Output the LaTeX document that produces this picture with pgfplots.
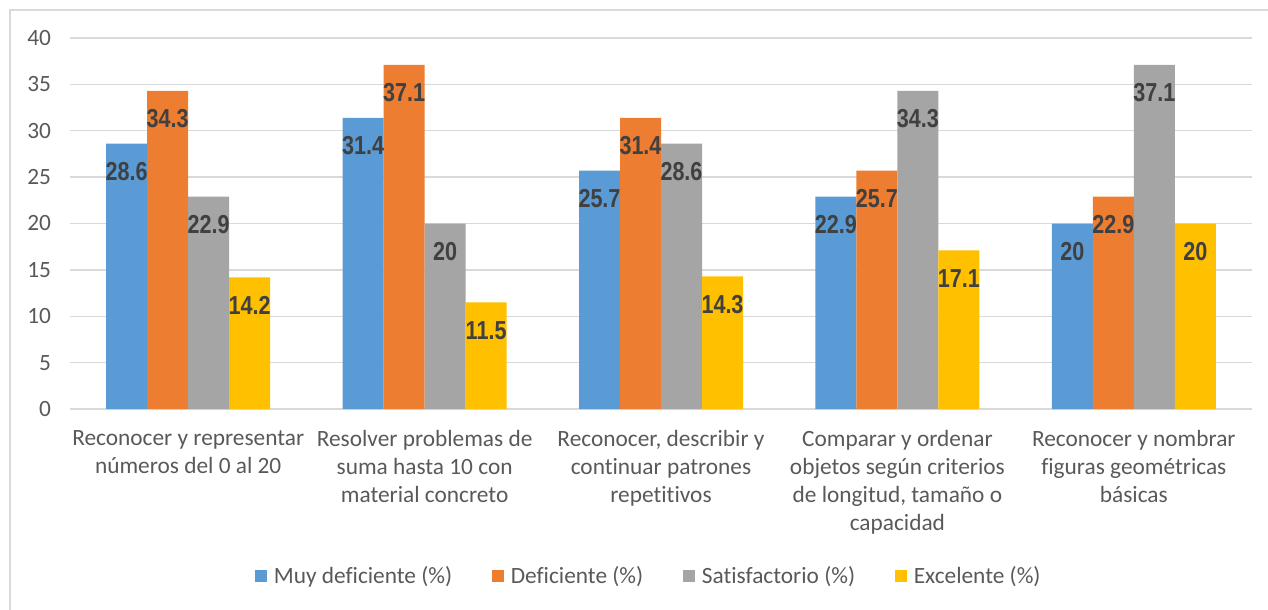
\documentclass[border=0pt]{standalone}
\usepackage{fontspec}
\setmainfont{Carlito}[Ligatures=NoCommon]
\newfontfamily\labfont{Liberation Sans}
\usepackage{pgfplots}
\usepackage{graphicx}
\pgfplotsset{compat=1.18}
\definecolor{c1}{HTML}{5B9BD5}
\definecolor{c2}{HTML}{ED7D31}
\definecolor{c3}{HTML}{A5A5A5}
\definecolor{c4}{HTML}{FFC000}
\definecolor{gridc}{HTML}{D9D9D9}
\definecolor{txt}{HTML}{595959}
\definecolor{lab}{HTML}{404040}
\begin{document}
\begin{tikzpicture}
\useasboundingbox (0,0) rectangle (951pt,-457.5pt);
\draw[gridc, line width=1.5pt] (7.5pt,-457.5pt) -- (7.5pt,-7.5pt) -- (951pt,-7.5pt);
\begin{axis}[
  at={(52.5pt,-306.75pt)}, anchor=south west,
  scale only axis,
  width=886.5pt, height=278.25pt,
  ybar=0pt, bar width=30.75pt,
  xmin=-0.5, xmax=4.5, ymin=0, ymax=40,
  ytick={0,5,...,40},
  xtick={0,1,2,3,4},
  xticklabels={
    {Reconocer y representar\\números del 0 al 20},
    {Resolver problemas de\\suma hasta 10 con\\material concreto},
    {Reconocer, describir y\\continuar patrones\\repetitivos},
    {Comparar y ordenar\\objetos según criterios\\de longitud, tamaño o\\capacidad},
    {Reconocer y nombrar\\figuras geométricas\\básicas}},
  axis lines*=left,
  y axis line style={draw=none},
  x axis line style={gridc, line width=1pt, -},
  ymajorgrids, grid style={gridc, line width=1pt},
  major tick length=0pt,
  /pgf/number format/assume math mode=true,
  tick label style={font=\fontsize{17.5}{21}\selectfont, text=txt},
  yticklabel style={anchor=east, inner sep=0pt, xshift=-14pt},
  xticklabel style={align=center, anchor=north, inner sep=0pt, yshift=-16pt},
  nodes near coords={\scalebox{0.83}[1]{\pgfmathprintnumber{\pgfplotspointmeta}}},
  every node near coord/.append style={anchor=center, yshift=-21pt, font=\labfont\bfseries\fontsize{19.5}{20}\selectfont, text=lab, inner sep=0pt},
  legend columns=4,
  legend style={at={(0.49,-0.45)}, anchor=center, draw=none, fill=none,
    font=\fontsize{17.5}{21}\selectfont, text=txt,
    /tikz/every even column/.append style={column sep=28pt},
    /tikz/every odd column/.append style={column sep=3pt}},
  legend image code/.code={\fill[#1] (0pt,-4.5pt) rectangle (9pt,4.5pt);},
]
\addplot[fill=c1, draw=none] coordinates {(0,28.6) (1,31.4) (2,25.7) (3,22.9) (4,20)};
\addplot[fill=c2, draw=none] coordinates {(0,34.3) (1,37.1) (2,31.4) (3,25.7) (4,22.9)};
\addplot[fill=c3, draw=none] coordinates {(0,22.9) (1,20) (2,28.6) (3,34.3) (4,37.1)};
\addplot[fill=c4, draw=none] coordinates {(0,14.2) (1,11.5) (2,14.3) (3,17.1) (4,20)};
\legend{Muy deficiente (\%), Deficiente (\%), Satisfactorio (\%), Excelente (\%)}
\end{axis}
\end{tikzpicture}
\end{document}
